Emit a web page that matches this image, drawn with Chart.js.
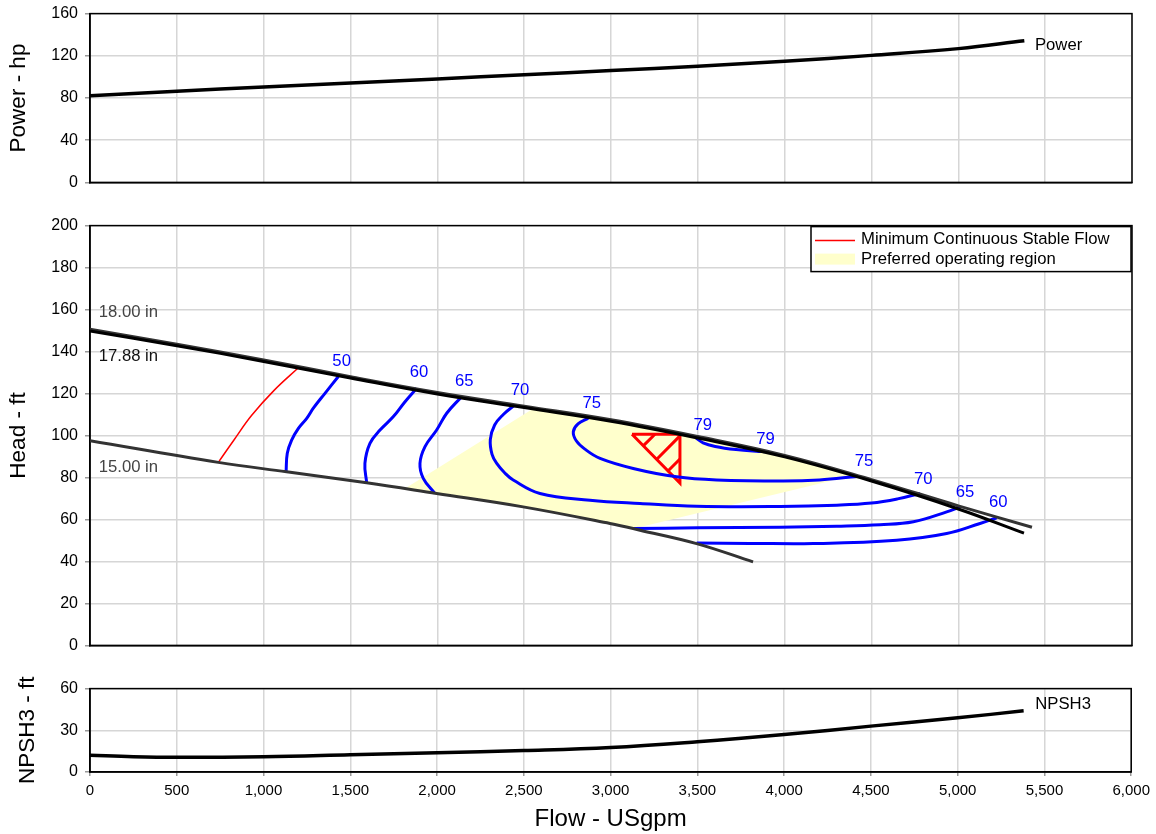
<!DOCTYPE html>
<html>
<head>
<meta charset="utf-8">
<title>Pump curve</title>
<script src="https://cdn.jsdelivr.net/npm/chart.js@4.4.1/dist/chart.umd.min.js"></script>
<style>
  body { margin: 0; background: #fff; overflow: hidden; }
  .panel { position: absolute; left: 0; width: 1156px; }
</style>
</head>
<body>
<div class="panel" style="top:-3px;height:202px"><canvas id="powerChart"></canvas></div>
<div class="panel" style="top:209px;height:453px"><canvas id="headChart"></canvas></div>
<div class="panel" style="top:672px;height:162px"><canvas id="npshChart"></canvas></div>
<script>
// --- data (flow in USgpm) ---
const powerFlow = [0, 500, 1000, 1500, 2000, 2500, 3000, 3500, 4000, 4500, 5000, 5380];
const powerHp = [82.2, 86.4, 90.4, 94.3, 98.1, 102, 106, 110.2, 114.9, 120.4, 126.8, 134.2];

const npshFlow = [0, 250, 500, 1000, 1500, 2000, 2500, 3000, 3500, 4000, 4500, 5000, 5380];
const npshFt = [12, 11, 10.6, 11, 12.4, 13.9, 15.4, 17.6, 21.8, 27, 33, 39, 44];

const d1800Flow = [0, 500, 1000, 1500, 2000, 2500, 3000, 3500, 4000, 4500, 5000, 5424];
const d1800Head = [150.6, 143.5, 136, 128, 120.5, 114, 107.5, 99.5, 90.5, 79, 66.5, 56.3];
const d1788Flow = [0, 500, 1000, 1500, 2000, 2500, 3000, 3500, 4000, 4500, 5000, 5378];
const d1788Head = [149.8, 142.8, 135.3, 127.4, 119.8, 113.3, 106.8, 98.8, 89.8, 78.3, 65, 53.5];
const d1500Flow = [0, 739, 1132, 1593, 1996, 2494, 2994, 3167, 3493, 3818];
const d1500Head = [97.5, 87.2, 82.7, 77.5, 72.4, 66, 58.1, 54.9, 48.5, 39.8];

const mcsfFlow = [739, 830, 930, 1060, 1203];
const mcsfHead = [87.2, 98, 109.5, 121.5, 132.5];

const e50Flow = [1430, 1353, 1286, 1248, 1200, 1161, 1136, 1129];
const e50Head = [128.1, 120.1, 113, 108.2, 103.4, 97.8, 91.5, 82.7];
const e60Flow = [1881, 1814, 1747, 1670, 1612, 1583, 1593];
const e60Head = [122.5, 116.1, 109, 102.6, 96.3, 86.7, 77.5];
const e65Flow = [2140, 2054, 1996, 1929, 1900, 1919, 1986];
const e65Head = [118.5, 110.6, 102.6, 94.7, 86.7, 79.6, 72.4];
const e70Flow = [2447, 2380, 2330, 2305, 2315, 2342, 2390, 2437, 2591, 2879, 3167, 3493, 3973, 4300, 4500, 4650, 4779];
const e70Head = [114.6, 110, 105, 98, 91, 86.7, 82, 78.8, 72.4, 69.2, 67.6, 66.3, 66.2, 66.8, 67.8, 69.8, 72.4];
const e75Flow = [2869, 2810, 2783, 2800, 2850, 2937, 3128, 3378, 3608, 3992, 4200, 4416];
const e75Head = [108.2, 105.5, 101.8, 97.5, 93.5, 89.1, 84.3, 80.3, 78.8, 78.3, 78.8, 80.5];
const e79Flow = [3490, 3530, 3600, 3720, 3850, 3885];
const e79Head = [98.8, 96.5, 94.8, 93.3, 92.4, 92.3];
const e65bFlow = [3128, 3500, 3973, 4300, 4549, 4741, 4933, 5009];
const e65bHead = [55.7, 56, 56.3, 56.8, 57.5, 58.9, 63.6, 66];
const e60bFlow = [3493, 3800, 4165, 4645, 4933, 5125, 5221];
const e60bHead = [48.8, 48.6, 48.5, 50.1, 53.3, 58.1, 60.8];

const porFlow = [1814, 2560, 3000, 3500, 4000, 4405, 3128, 2994, 2648, 2494, 1996, 1814];
const porHead = [74.7, 113.2, 107.5, 99.5, 90.5, 81.2, 55.6, 58.1, 63.6, 66, 72.4, 74.7];

const bepFlow = [3121, 3397, 3397, 3121];
const bepHead = [100.6, 100.6, 77.3, 100.6];
const hatchFlow = [3253, 3187, 3187, 3397, 3265, 3265, 3397, 3331];
const hatchHead = [100.6, 95.2, null, 99.8, 88.8, null, 88.8, 83.3];

const effLabelText = ['50', '60', '65', '70', '75', '79', '79', '75', '70', '65', '60'];
const effLabelFlow = [1449, 1894, 2155, 2476, 2889, 3528, 3890, 4457, 4798, 5038, 5230];
const effLabelHead = [135.2, 130, 125.7, 121.7, 115.4, 105, 98.2, 87.5, 79.2, 72.7, 67.9];

const diaLabelText = ['18.00 in', '17.88 in', '15.00 in'];
const diaLabelFlow = [50, 50, 50];
const diaLabelHead = [158.5, 137.5, 85];

Chart.defaults.font.family = '"Liberation Sans", Arial, sans-serif';
Chart.defaults.color = '#000';

const FONT = '"Liberation Sans", Arial, sans-serif';
const LABEL_FONT = '16.7px ' + FONT;
const BLUE = '#0000ff';

function pts(xs, ys) {
  return xs.map((x, i) => ({ x: x, y: ys[i] }));
}

function curve(label, xs, ys, color, width, extra) {
  return Object.assign({
    label: label,
    data: pts(xs, ys),
    borderColor: color,
    borderWidth: width,
    pointRadius: 0,
    pointHoverRadius: 0,
    tension: 0.4,
    fill: false,
    order: 0
  }, extra || {});
}

function xScale(showTicks) {
  return {
    type: 'linear', min: 0, max: 6000,
    ticks: { stepSize: 500, display: showTicks, font: { size: 15 }, color: '#000', padding: 6, maxRotation: 0 },
    grid: { color: '#d6d6d6', lineWidth: 1.5, drawTicks: showTicks, tickLength: 4, tickColor: '#999' },
    border: { color: '#000', width: 1.5 },
    title: {
      display: showTicks, text: 'Flow - USgpm', font: { size: 24 }, color: '#000',
      padding: { top: 0, bottom: 0 }
    },
    afterFit: s => { s.height = showTicks ? 62 : 0; }
  };
}

function yScale(max, step, title, titlePad) {
  return {
    type: 'linear', min: 0, max: max,
    ticks: { stepSize: step, font: { size: 16 }, color: '#000', padding: 7 },
    grid: { color: '#d6d6d6', lineWidth: 1.5, tickLength: 5, tickColor: '#999' },
    border: { color: '#000', width: 1.5 },
    title: { display: true, text: title, font: { size: 22.5 }, color: '#000', padding: { top: titlePad, bottom: 0 } },
    afterFit: s => { s.width = 90; }
  };
}

function options(yMax, yStep, yTitle, titlePad, showX) {
  return {
    responsive: true,
    maintainAspectRatio: false,
    animation: false,
    events: [],
    layout: { padding: { top: 0, bottom: 0, left: 0, right: 24 } },
    plugins: { legend: { display: false }, tooltip: { enabled: false } },
    scales: { x: xScale(showX), y: yScale(yMax, yStep, yTitle, titlePad) }
  };
}

// chart border on all four sides
const framePlugin = {
  id: 'frame',
  beforeDatasetsDraw(chart) {
    const { ctx, chartArea: a } = chart;
    ctx.save();
    ctx.strokeStyle = '#000';
    ctx.lineWidth = 1.5;
    ctx.strokeRect(a.left, a.top, a.right - a.left, a.bottom - a.top);
    ctx.restore();
  }
};

function textLabels(texts, xs, ys, colorFor, align) {
  return {
    id: 'textLabels',
    afterDatasetsDraw(chart) {
      const { ctx, scales } = chart;
      ctx.save();
      ctx.font = LABEL_FONT;
      ctx.textBaseline = 'middle';
      ctx.textAlign = align;
      texts.forEach((t, i) => {
        ctx.fillStyle = colorFor(i);
        ctx.fillText(t, scales.x.getPixelForValue(xs[i]), scales.y.getPixelForValue(ys[i]));
      });
      ctx.restore();
    }
  };
}

// boxed legend in the top right corner of the head panel
const boxLegend = {
  id: 'boxLegend',
  afterDraw(chart) {
    const { ctx, chartArea: a } = chart;
    const mcsf = chart.data.datasets.find(d => d.label === 'Minimum Continuous Stable Flow');
    const por = chart.data.datasets.find(d => d.label === 'Preferred operating region');
    const w = 320, h = 45;
    const left = a.right - w - 1, top = a.top + 1;
    ctx.save();
    ctx.fillStyle = '#fff';
    ctx.fillRect(left, top, w, h);
    ctx.strokeStyle = '#000';
    ctx.lineWidth = 1.5;
    ctx.strokeRect(left, top, w, h);
    ctx.strokeStyle = mcsf.borderColor;
    ctx.lineWidth = 1.5;
    ctx.beginPath();
    ctx.moveTo(left + 4, top + 14);
    ctx.lineTo(left + 44, top + 14);
    ctx.stroke();
    ctx.fillStyle = por.backgroundColor;
    ctx.fillRect(left + 4, top + 27, 40, 11);
    ctx.fillStyle = '#000';
    ctx.font = LABEL_FONT;
    ctx.textBaseline = 'middle';
    ctx.textAlign = 'left';
    ctx.fillText(mcsf.label, left + 50, top + 13);
    ctx.fillText(por.label, left + 50, top + 33);
    ctx.restore();
  }
};

// --- power panel ---
new Chart(document.getElementById('powerChart'), {
  type: 'line',
  data: { datasets: [curve('Power', powerFlow, powerHp, '#000', 3.5)] },
  options: options(160, 40, 'Power - hp', 5, false),
  plugins: [framePlugin, textLabels(['Power'], [5441], [129.5], () => '#000', 'left')]
});

// --- head panel ---
new Chart(document.getElementById('headChart'), {
  type: 'line',
  data: {
    datasets: [
      curve('17.88 in', d1788Flow, d1788Head, '#000', 3),
      curve('18.00 in', d1800Flow, d1800Head, '#333', 3),
      curve('15.00 in', d1500Flow, d1500Head, '#333', 3),
      curve('50', e50Flow, e50Head, BLUE, 3),
      curve('60', e60Flow, e60Head, BLUE, 3),
      curve('65', e65Flow, e65Head, BLUE, 3),
      curve('70', e70Flow, e70Head, BLUE, 3),
      curve('75', e75Flow, e75Head, BLUE, 3),
      curve('79', e79Flow, e79Head, BLUE, 3),
      curve('65 (right)', e65bFlow, e65bHead, BLUE, 3),
      curve('60 (right)', e60bFlow, e60bHead, BLUE, 3),
      curve('Minimum Continuous Stable Flow', mcsfFlow, mcsfHead, '#ff0000', 1.5),
      curve('BEP', bepFlow, bepHead, '#ff0000', 3, { tension: 0 }),
      curve('BEP hatch', hatchFlow, hatchHead, '#ff0000', 3, { tension: 0 }),
      curve('Preferred operating region', porFlow, porHead, 'rgba(0,0,0,0)', 0,
        { tension: 0, fill: 'shape', backgroundColor: '#ffffcc', order: 10 })
    ]
  },
  options: options(200, 20, 'Head - ft', 5, false),
  plugins: [
    framePlugin,
    textLabels(effLabelText, effLabelFlow, effLabelHead, () => BLUE, 'center'),
    textLabels(diaLabelText, diaLabelFlow, diaLabelHead, i => (i === 1 ? '#111' : '#444'), 'left'),
    boxLegend
  ]
});

// --- NPSH panel ---
new Chart(document.getElementById('npshChart'), {
  type: 'line',
  data: { datasets: [curve('NPSH3', npshFlow, npshFt, '#000', 3.5)] },
  options: options(60, 30, 'NPSH3 - ft', 14, true),
  plugins: [framePlugin, textLabels(['NPSH3'], [5447], [48.4], () => '#000', 'left')]
});
</script>
</body>
</html>
